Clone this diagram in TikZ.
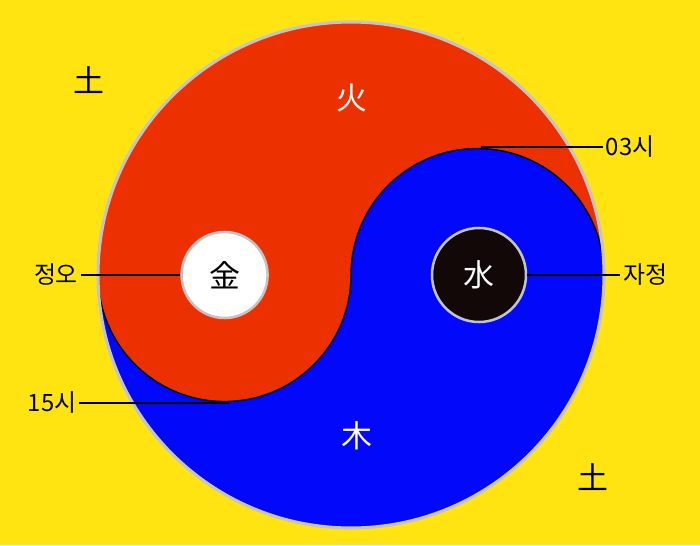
\documentclass[tikz,border=0pt]{standalone}
\usepackage{fontspec}
\newfontfamily\kr{Noto Sans CJK KR}
\usepackage{tikz}
\usetikzlibrary{positioning}
\definecolor{yellowBg}{RGB}{255, 228, 18}
\definecolor{redFire}{RGB}{236, 48, 0}
\definecolor{blueWood}{RGB}{2, 8, 250}
\definecolor{greyEdge}{RGB}{196, 196, 200}
\definecolor{blackWater}{RGB}{18, 8, 8}

\begin{document}
\begin{tikzpicture}[
  elem/.style={font=\kr\fontsize{22}{24}\selectfont},
  lbl/.style={font=\kr\fontsize{17}{19}\selectfont, text=black, inner sep=2pt},
  dot/.style={circle, draw=greyEdge, line width=1.8pt, inner sep=0pt},
  lead/.style={line width=1.1pt, black},
]
\fill[yellowBg] (-8.775,-6.75) rectangle (8.725,6.875);
\useasboundingbox (-8.775,-6.75) rectangle (8.725,6.875);
% taegeuk
\fill[blueWood] (0,0) circle (6.325);
\fill[redFire] (6.325,0) arc (0:180:6.325) arc (180:360:3.1625)
  arc (180:0:3.1625) -- cycle;
\draw[black, line width=1pt] (-6.325,0) arc (180:360:3.1625)
  arc (180:0:3.1625);
\draw[greyEdge, line width=2.2pt] (0,0) circle (6.325);
\node[dot, elem, fill=white, minimum size=2.15cm] (metal) at (-3.16,0) {金};
\node[dot, elem, fill=blackWater, text=white, minimum size=2.35cm] (water) at (3.2,0) {水};
\node[elem, text=white] (fire) at (0.025,4.425) {火};
\node[elem, text=white] (wood) at (0.15,-4.025) {木};
\node[elem] (earthA) at (-6.55,4.875) {土};
\node[elem] (earthB) at (6.05,-5.05) {土};
% labels
\node[lbl] (noon)     at (-7.375,0) {정오};
\node[lbl] (midnight) at (7.35,0)   {자정};
\node[lbl] (h03)      at (6.975,3.2) {03시};
\node[lbl] (h15)      at (-7.475,-3.2) {15시};
\coordinate (t03) at (3.25,3.2);
\coordinate (t15) at (-3.05,-3.2);
\draw[lead] (noon)  -- (metal);
\draw[lead] (water) -- (midnight);
\draw[lead] (t03)   -- (h03);
\draw[lead] (h15)   -- (t15);
\end{tikzpicture}
\end{document}
